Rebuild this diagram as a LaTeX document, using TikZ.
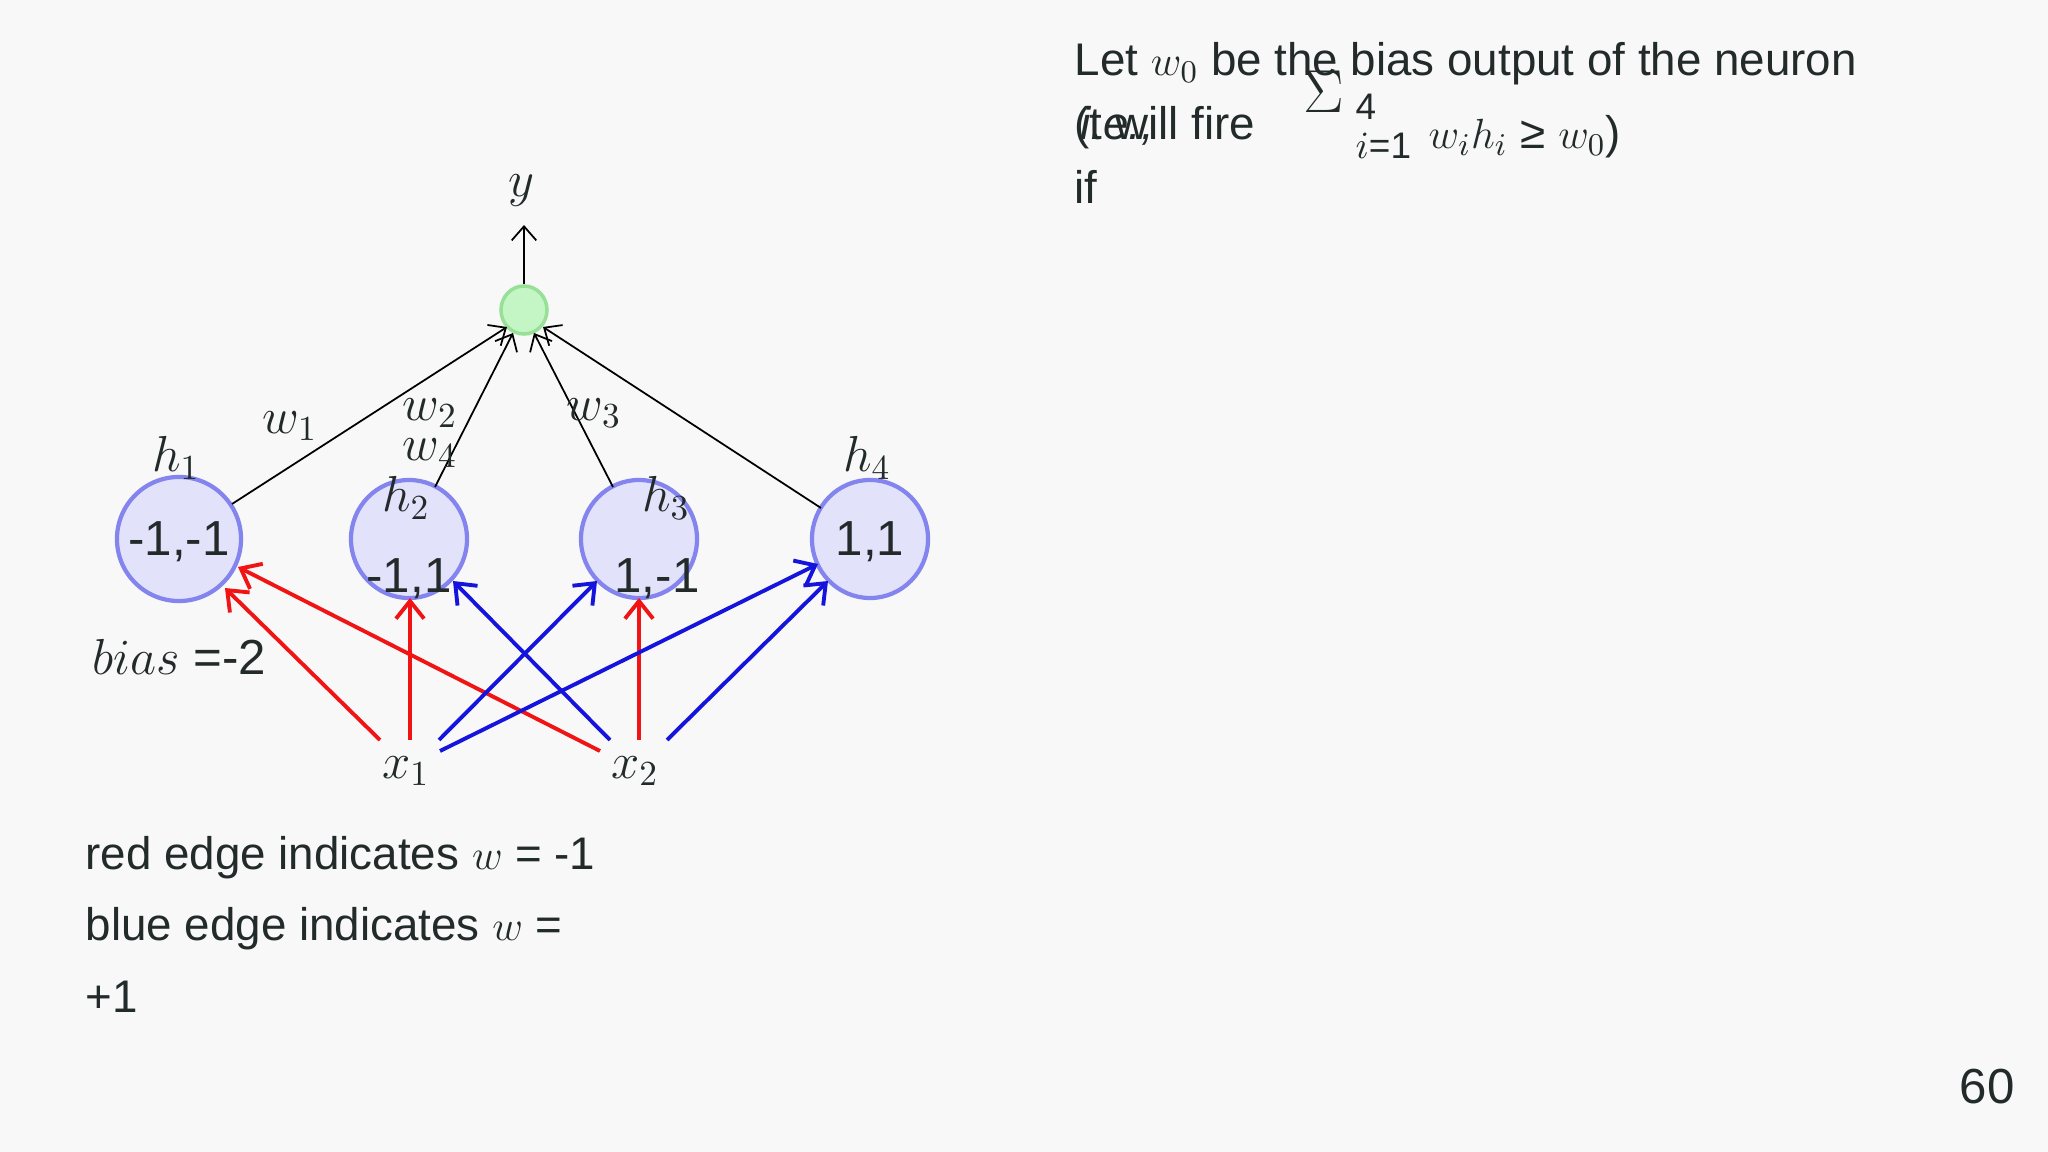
\documentclass[tikz,border=0pt]{standalone}
\usepackage{fontspec}
\setmainfont{Liberation Sans}
\usetikzlibrary{arrows.meta,shapes.geometric}
\definecolor{bg}{HTML}{F8F8F8}
\definecolor{txt}{HTML}{222A2A}
\definecolor{hfill}{HTML}{E2E2FA}
\definecolor{hdraw}{HTML}{8484EE}
\definecolor{gfill}{HTML}{C4F5C4}
\definecolor{gdraw}{HTML}{98E098}
\begin{document}
\begin{tikzpicture}[x=0.01cm,y=-0.01cm,
  hid/.style={ellipse,draw=hdraw,fill=hfill,line width=1.2pt,minimum width=1.16cm,minimum height=1.18cm,inner sep=0pt},
  lab/.style={text=txt,font=\fontsize{14}{16}\selectfont,inner sep=0pt},
  txtl/.style={text=txt,font=\fontsize{13}{15}\selectfont,inner sep=0pt,anchor=west},
  small/.style={txtl,font=\fontsize{10.5}{12}\selectfont},
  blk/.style={-{Straight Barb[length=4pt,width=7pt]},black,line width=0.5pt},
  red/.style={-{Straight Barb[length=5pt,width=8pt]},draw={rgb,255:red,240;green,20;blue,20},line width=1.1pt},
  blu/.style={-{Straight Barb[length=5pt,width=8pt]},draw={rgb,255:red,20;green,20;blue,220},line width=1.1pt}]
\fill[bg] (0,0) rectangle (2048,1152);
\useasboundingbox (0,0) rectangle (2048,1152);
% output neuron
\node[ellipse,draw=gdraw,fill=gfill,line width=1pt,minimum width=0.46cm,minimum height=0.48cm,inner sep=0pt] (o) at (524,310) {};
\coordinate (ytop) at (524,225);
\node[lab] (y) at (521,191) {$y$};
\draw[blk] (o.north) -- (ytop);
% hidden
\node[hid,minimum width=1.24cm,minimum height=1.24cm] (h1) at (179,539) {};
\node[hid] (h2) at (409,539) {};
\node[hid] (h3) at (639,539) {};
\node[hid] (h4) at (870,539) {};
\node[lab] (v1) at (179,542) {-1,-1};
\node[lab] (v2) at (409,579) {-1,1};
\node[lab] (v3) at (657,579) {1,-1};
\node[lab] (v4) at (870,542) {1,1};
\node[lab] (l1) at (176,458) {$h_1$};
\node[lab] (l2) at (406,498) {$h_2$};
\node[lab] (l3) at (666,498) {$h_3$};
\node[lab] (l4) at (867,458) {$h_4$};
\coordinate (e1) at (232,504);
\coordinate (e2) at (435,487);
\coordinate (e3) at (613,487);
\coordinate (e4) at (821,508);
\coordinate (o1) at (507,327);
\coordinate (o2) at (513,333);
\coordinate (o3) at (534,333);
\coordinate (o4) at (543,327);
\draw[blk] (e1) -- (o1);
\draw[blk] (e2) -- (o2);
\draw[blk] (e3) -- (o3);
\draw[blk] (e4) -- (o4);
\node[lab] (w1) at (290,426) {$w_1$};
\node[lab] (w2) at (430,413) {$w_2$};
\node[lab] (w4) at (430,453) {$w_4$};
\node[lab] (w3) at (594,413) {$w_3$};
% inputs
\node[lab] (x1) at (406,771) {$x_1$};
\node[lab] (x2) at (635,771) {$x_2$};
\coordinate (a1) at (380,740);
\coordinate (a2) at (410,740);
\coordinate (a3) at (439,740);
\coordinate (a4) at (440,751);
\coordinate (b1) at (600,751);
\coordinate (b2) at (610,740);
\coordinate (b3) at (639,740);
\coordinate (b4) at (667,740);
\coordinate (t1a) at (225,588);
\coordinate (t1b) at (238,567);
\coordinate (t2a) at (410,598);
\coordinate (t2b) at (453,581);
\coordinate (t3a) at (597,581);
\coordinate (t3b) at (639,598);
\coordinate (t4a) at (818,564);
\coordinate (t4b) at (828,581);
\draw[red] (a1) -- (t1a);
\draw[red] (a2) -- (t2a);
\draw[red] (b1) -- (t1b);
\draw[red] (b3) -- (t3b);
\draw[blu] (a3) -- (t3a);
\draw[blu] (a4) -- (t4a);
\draw[blu] (b2) -- (t2b);
\draw[blu] (b4) -- (t4b);
\node[lab] (bias) at (179,657) {$bias$ =-2};
\node[txtl] (r1) at (85,858) {red edge indicates $w$ = -1};
\node[txtl] (r2) at (85,929) {blue edge indicates $w$ =};
\node[txtl] (r3) at (85,997) {+1};
% right text
\node[txtl] (t1) at (1074,64) {Let $w_0$ be the bias output of the neuron};
\node[txtl] (t2) at (1074,128) {(t will fire};
\node[txtl] (t2b) at (1080,126) {\itshape i.e.,};
\node[txtl,font=\fontsize{16}{18}\selectfont] (sig) at (1303,92) {$\Sigma$};
\node[small] (four) at (1355,107) {4};
\node[small] (ieq) at (1355,146) {$i$=1};
\node[txtl] (sum) at (1428,137) {$w_ih_i$ ≥ $w_0$)};
\node[txtl] (if) at (1074,187) {if};
\node[lab] (pg) at (1987,1087) {60};
\end{tikzpicture}
\end{document}
